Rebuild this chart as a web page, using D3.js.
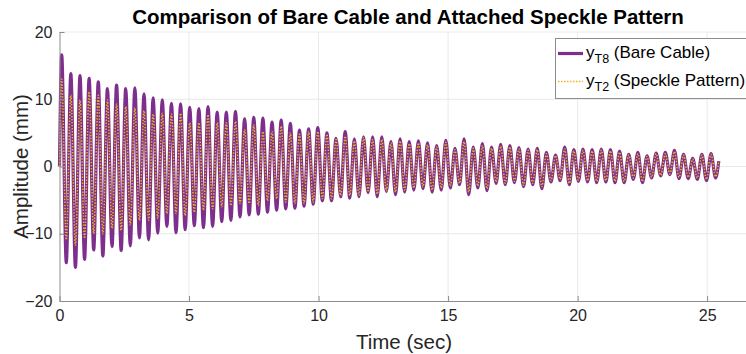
<!DOCTYPE html>
<html lang="en">
<head>
<meta charset="UTF-8">
<script src="https://cdnjs.cloudflare.com/ajax/libs/d3/7.8.5/d3.min.js"></script>
<title>Bare Cable vs Speckle Pattern</title>
<style>
  body { margin: 0; background: #fff; }
  text { font-family: "Liberation Sans", Arial, Helvetica, sans-serif; }
</style>
</head>
<body>
<div id="chart"></div>
<script>
// values: one peak and one trough per cycle
let bareCablePeaks = [
  16.6, 13.8, 13.5, 13.1, 12.6, 11.6, 12.1, 11.6, 11.7, 10.8, 10.2, 9.9, 9.4,
  9.3, 8.8, 8.6, 8.9, 8.1, 8.1, 8.2, 7.1, 7.3, 7.2, 6.6, 6.9, 6.4,
  5.4, 5.6, 5.8, 5.0, 4.2, 5.2, 4.1, 4.4, 4.4, 4.4, 3.7, 4.1,
  3.7, 3.8, 3.5, 3.1, 3.9, 2.7, 4.1, 2.9, 3.4, 2.9, 3.3, 3.1,
  2.8, 2.6, 2.7, 2.1, 1.7, 2.9, 2.5, 2.6, 2.5, 2.6, 2.5, 2.3, 1.8,
  2.1, 1.6, 2.0, 2.1, 2.4, 1.8, 1.2, 1.8, 1.9
];
let bareCableTroughs = [
  -14.3, -15.0, -13.8, -12.4, -13.3, -11.9, -12.5, -11.8, -10.6, -10.9, -9.9, -8.9,
  -9.85, -9.4, -8.8, -9.1, -8.9, -8.2, -8.0, -7.5, -7.2, -7.1, -6.8, -6.5, -6.3,
  -6.2, -5.9, -5.6, -5.1, -5.1, -4.5, -4.7, -4.5, -3.9, -4.5, -3.7, -4.2,
  -3.8, -3.5, -3.3, -3.8, -3.5, -3.2, -2.7, -4.2, -3.2, -3.6, -2.5, -2.7, -2.4,
  -3.0, -2.7, -3.3, -2.3, -2.1, -2.7, -2.2, -2.3, -2.4, -2.3, -2.4, -2.4, -1.9,
  -2.4, -1.7, -1.4, -1.2, -1.8, -1.8, -1.9, -2.1, -1.7
];
let specklePeaks = [
  13.0, 10.6, 9.9, 11.1, 10.6, 9.9, 9.3, 8.9, 8.7, 8.3, 7.8, 7.9, 7.8,
  7.9, 6.5, 6.5, 7.7, 6.5, 6.5, 6.7, 5.5, 6.2, 5.2, 5.2, 6.0, 5.0,
  4.8, 5.2, 5.2, 4.8, 4.0, 4.5, 3.8, 4.3, 4.0, 4.0, 3.5, 3.8,
  3.4, 3.5, 3.2, 2.9, 3.6, 2.5, 3.7, 2.7, 3.1, 2.7, 3.0, 2.9,
  2.6, 2.4, 2.5, 1.9, 1.6, 2.6, 2.3, 2.4, 2.3, 2.4, 2.3, 2.1, 1.7,
  1.9, 1.5, 1.9, 1.9, 2.2, 1.7, 1.1, 1.7, 1.8
];
let speckleTroughs = [
  -10.9, -11.7, -10.7, -10.0, -10.0, -9.2, -9.5, -8.7, -8.0, -8.0, -7.7, -7.0,
  -7.0, -7.3, -6.8, -6.5, -6.3, -6.0, -5.8, -5.5, -5.5, -5.8, -5.1, -4.8, -5.3,
  -5.5, -5.5, -5.3, -4.8, -4.8, -4.3, -4.3, -4.3, -3.6, -4.1, -3.6, -3.8,
  -3.5, -3.2, -3.0, -3.5, -3.2, -2.9, -2.5, -3.8, -2.9, -3.3, -2.3, -2.5, -2.2,
  -2.8, -2.5, -3.0, -2.1, -1.9, -2.5, -2.0, -2.1, -2.2, -2.1, -2.2, -2.2, -1.7,
  -2.2, -1.6, -1.3, -1.1, -1.6, -1.6, -1.7, -1.9, -1.5
];
// time of first and last peak, start and end of the record (sec)
let peakTimeRange = [0.085, 25.15];
let startPoint = [0, 0];
let endPoint = [25.45, 0.8];

let xTicks = [0, 5, 10, 15, 20, 25];
let yTicks = [-20, -10, 0, 10, 20];
let seriesNames = ["(Bare Cable)", "(Speckle Pattern)"];
let seriesSubs = ["T8", "T2"];

// chart settings
let width = 746;
let height = 354;
let plotLeft = 59.5, plotRight = 746, plotTop = 32, plotBottom = 301;

let svg = d3.select("#chart").append("svg")
  .attr("width", width).attr("height", height);

let x = d3.scaleLinear().domain([0, 26.5]).range([plotLeft, plotRight]);
let y = d3.scaleLinear().domain([-20, 20]).range([plotBottom, plotTop]);
// cycle number -> time
let cycleTime = d3.scaleLinear().domain([0, bareCablePeaks.length - 1]).range(peakTimeRange);

function buildSeries(peaks, troughs) {
  let pts = [startPoint];
  peaks.forEach(function (p, i) {
    pts.push([cycleTime(i), p]);
    pts.push([cycleTime(i + 0.5), troughs[i]]);
  });
  pts.push(endPoint);
  return pts;
}

// grid
svg.append("g").selectAll("line").data(xTicks.slice(1)).enter().append("line")
  .attr("x1", d => x(d)).attr("x2", d => x(d))
  .attr("y1", plotTop).attr("y2", plotBottom)
  .attr("stroke", "#e9e9e9").attr("stroke-width", 1);
svg.append("g").selectAll("line").data(yTicks.slice(1)).enter().append("line")
  .attr("x1", plotLeft).attr("x2", plotRight)
  .attr("y1", d => y(d)).attr("y2", d => y(d))
  .attr("stroke", "#e9e9e9").attr("stroke-width", 1);

// lines
let line = d3.line().x(d => x(d[0])).y(d => y(d[1])).curve(d3.curveMonotoneX);

svg.append("path")
  .datum(buildSeries(bareCablePeaks, bareCableTroughs))
  .attr("d", line)
  .attr("fill", "none")
  .attr("stroke", "#7E2F8E")
  .attr("stroke-width", 3.2)
  .attr("stroke-linejoin", "round");

svg.append("path")
  .datum(buildSeries(specklePeaks, speckleTroughs))
  .attr("d", line)
  .attr("fill", "none")
  .attr("stroke", "#EDB120")
  .attr("stroke-width", 1.5)
  .attr("stroke-dasharray", "1.5,1.5");

// axes
let xAxis = svg.append("g").attr("transform", "translate(0," + plotBottom + ")")
  .call(d3.axisBottom(x).tickValues(xTicks).tickSizeInner(-5).tickSizeOuter(0).tickPadding(9));
let yAxis = svg.append("g").attr("transform", "translate(" + plotLeft + ",0)")
  .call(d3.axisLeft(y).tickValues(yTicks).tickSizeInner(-5).tickSizeOuter(0).tickPadding(7));
[xAxis, yAxis].forEach(function (a) {
  a.select(".domain").attr("stroke", "#8c8c8c");
  a.selectAll(".tick line").attr("stroke", "#8c8c8c");
  a.selectAll(".tick text").attr("fill", "#262626").attr("font-size", 16)
    .attr("font-family", "Liberation Sans, Arial, sans-serif");
});

// title and labels
svg.append("text")
  .attr("x", 408).attr("y", 24)
  .attr("text-anchor", "middle")
  .attr("font-size", 20.5).attr("font-weight", "bold")
  .attr("fill", "#000")
  .text("Comparison of Bare Cable and Attached Speckle Pattern");

svg.append("text")
  .attr("x", 404).attr("y", 349)
  .attr("text-anchor", "middle")
  .attr("font-size", 20.5).attr("fill", "#262626")
  .text("Time (sec)");

svg.append("text")
  .attr("transform", "translate(28," + y(0) + ") rotate(-90)")
  .attr("text-anchor", "middle")
  .attr("font-size", 20.5).attr("fill", "#262626")
  .text("Amplitude (mm)");

// legend
let legend = svg.append("g");
legend.append("rect")
  .attr("x", 555.5).attr("y", 38.5).attr("width", 200).attr("height", 60)
  .attr("fill", "#fff").attr("stroke", "#8c8c8c").attr("stroke-width", 1);

let legendRows = [53.5, 81.5];
legend.append("line").attr("x1", 558).attr("x2", 583)
  .attr("y1", legendRows[0]).attr("y2", legendRows[0])
  .attr("stroke", "#7E2F8E").attr("stroke-width", 3.2);
legend.append("line").attr("x1", 558).attr("x2", 583)
  .attr("y1", legendRows[1]).attr("y2", legendRows[1])
  .attr("stroke", "#EDB120").attr("stroke-width", 1.5).attr("stroke-dasharray", "1.5,1.5");

seriesNames.forEach(function (name, i) {
  let t = legend.append("text")
    .attr("x", 586).attr("y", legendRows[i] + 4.5)
    .attr("font-size", 17).attr("fill", "#000");
  t.append("tspan").text("y");
  t.append("tspan").attr("dy", 5).attr("font-size", 12.5).text(seriesSubs[i]);
  t.append("tspan").attr("dy", -5).text(" " + name);
});
</script>
</body>
</html>
